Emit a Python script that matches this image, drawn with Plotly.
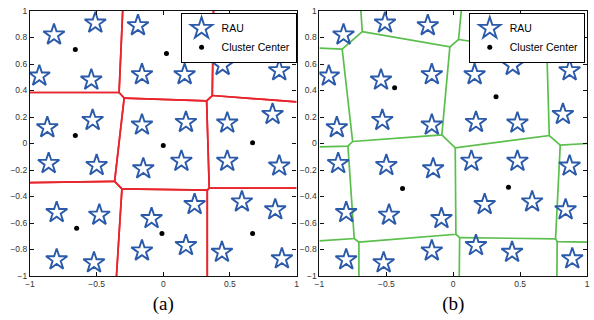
import numpy as np
import plotly.graph_objects as go

# ---------------- data ----------------
# RAU positions (identical in both panels)
rau_x = [-0.82, -0.51, -0.93, -0.54, -0.19, 0.235, -0.16, 0.16, 0.445, 0.87, 0.55, 0.86,
         -0.87, -0.53, -0.16, 0.17, 0.48, 0.82,
         -0.86, -0.50, -0.15, 0.136, 0.48, 0.87,
         -0.80, -0.48, -0.088, 0.235, 0.59, 0.84,
         -0.80, -0.52, -0.16, 0.17, 0.44, 0.89]
rau_y = [0.82, 0.91, 0.51, 0.48, 0.89, 0.89, 0.52, 0.52, 0.59, 0.55, 0.87, 0.87,
         0.12, 0.175, 0.14, 0.16, 0.155, 0.22,
         -0.15, -0.165, -0.19, -0.133, -0.133, -0.17,
         -0.52, -0.54, -0.566, -0.46, -0.44, -0.50,
         -0.877, -0.90, -0.81, -0.77, -0.82, -0.87]

# (a) cluster centers (Voronoi generators)
center_a_x = [-0.66, 0.024, 0.72, -0.66, 0.0, 0.67, -0.65, -0.01, 0.67]
center_a_y = [0.71, 0.68, 0.67, 0.06, -0.015, 0.005, -0.64, -0.68, -0.68]

# (b) cluster centers
center_b_x = [-0.438, 0.32, -0.379, 0.413]
center_b_y = [0.42, 0.353, -0.34, -0.33]

# (b) cell boundaries (polylines, None separates)
b_edge_x = [-0.69, -0.68, -0.83, -1.0, None,
            -0.68, -0.025, 0.04, 0.06, None,
            0.04, 0.70, 0.80, 0.86, None,
            -0.83, -0.752, -0.787, -1.0, None,
            -0.752, -0.085, -0.025, None,
            -0.085, 0.015, 0.718, 0.70, None,
            0.718, 0.80, 1.0, None,
            -0.787, -0.74, -1.0, None,
            -0.74, -0.705, -0.705, None,
            -0.705, 0.02, 0.015, None,
            0.02, 0.048, 0.045, None,
            0.048, 0.765, 0.80, None,
            0.765, 0.777, 1.0, None,
            0.777, 0.775]
b_edge_y = [1.0, 0.844, 0.712, 0.72, None,
            0.844, 0.73, 0.785, 1.0, None,
            0.785, 0.687, 0.78, 0.84, None,
            0.712, 0.015, -0.02, -0.025, None,
            0.015, 0.065, 0.73, None,
            0.065, -0.032, 0.06, 0.687, None,
            0.06, -0.012, 0.0, None,
            -0.02, -0.717, -0.735, None,
            -0.717, -0.745, -1.0, None,
            -0.745, -0.685, -0.032, None,
            -0.685, -0.71, -1.0, None,
            -0.71, -0.72, -0.012, None,
            -0.72, -0.74, -0.745, None,
            -0.74, -1.0]

x_ticks = [-1, -0.5, 0, 0.5, 1]
x_tick_text = ["\u22121", "\u22120.5", "0", "0.5", "1"]
y_ticks = [-1, -0.8, -0.6, -0.4, -0.2, 0, 0.2, 0.4, 0.6, 0.8, 1]
y_tick_text = ["\u22121", "\u22120.8", "\u22120.6", "\u22120.4", "\u22120.2", "0",
               "0.2", "0.4", "0.6", "0.8", "1"]
panel_labels = ["(a)", "(b)"]


# ---------------- Voronoi of the (a) centers, clipped to the box ----------------
def clip_halfplane(poly, a, b, c):
    out = []
    n = len(poly)
    for k in range(n):
        p, q = poly[k], poly[(k + 1) % n]
        fp = a * p[0] + b * p[1] - c
        fq = a * q[0] + b * q[1] - c
        if fp <= 0:
            out.append(p)
        if fp * fq < 0:
            t = fp / (fp - fq)
            out.append((p[0] + t * (q[0] - p[0]), p[1] + t * (q[1] - p[1])))
    return out


def voronoi_edges(cx, cy):
    pts = np.column_stack([cx, cy])
    ex, ey = [], []
    for i, pi in enumerate(pts):
        poly = [(-1, -1), (1, -1), (1, 1), (-1, 1)]
        for j, pj in enumerate(pts):
            if i == j:
                continue
            a, b = 2 * (pj - pi)
            c = pj @ pj - pi @ pi
            poly = clip_halfplane(poly, a, b, c)
        n = len(poly)
        for k in range(n):
            p, q = poly[k], poly[(k + 1) % n]
            on_edge = False
            for d in (0, 1):
                for s in (-1, 1):
                    if abs(p[d] - s) < 1e-9 and abs(q[d] - s) < 1e-9:
                        on_edge = True
            if on_edge:
                continue
            ex += [p[0], q[0], None]
            ey += [p[1], q[1], None]
    return ex, ey


a_edge_x, a_edge_y = voronoi_edges(center_a_x, center_a_y)

# ---------------- figure ----------------
STAR_COLOR = "#2a5aa9"
fig = go.Figure()

panels = [
    dict(xa="x", ya="y", ex=a_edge_x, ey=a_edge_y, cx=center_a_x, cy=center_a_y,
         lc="#e8242c", legend="legend"),
    dict(xa="x2", ya="y2", ex=b_edge_x, ey=b_edge_y, cx=center_b_x, cy=center_b_y,
         lc="#5abf4c", legend="legend2"),
]

for p in panels:
    fig.add_trace(go.Scatter(x=p["ex"], y=p["ey"], mode="lines", xaxis=p["xa"], yaxis=p["ya"],
                             line=dict(color=p["lc"], width=1.7), showlegend=False,
                             hoverinfo="skip"))
    fig.add_trace(go.Scatter(x=rau_x, y=rau_y, mode="markers", name="RAU",
                             xaxis=p["xa"], yaxis=p["ya"], legend=p["legend"],
                             marker=dict(symbol="star-open", size=16,
                                         color=STAR_COLOR, line=dict(width=1.9, color=STAR_COLOR))))
    fig.add_trace(go.Scatter(x=p["cx"], y=p["cy"], mode="markers", name="Cluster Center",
                             xaxis=p["xa"], yaxis=p["ya"], legend=p["legend"],
                             marker=dict(symbol="circle", size=5, color="black")))

L, R, T, B = 30, 4, 11, 44
W, H = 594, 320
pw = W - L - R
dom_a = [0, (298 - L) / pw]
dom_b = [(321 - L) / pw, 1]

axis_common = dict(range=[-1, 1], showgrid=False, zeroline=False, showline=True,
                   linecolor="#111", linewidth=1.2, mirror="allticks", ticks="inside",
                   ticklen=4, tickcolor="#111", tickwidth=1,
                   tickfont=dict(family="Arial, Liberation Sans, sans-serif", size=8.5,
                                 color="#333"), fixedrange=True)

legend_common = dict(bgcolor="white", bordercolor="black", borderwidth=1,
                     font=dict(family="Arial, Liberation Sans, sans-serif", size=10.5,
                               color="black"),
                     xanchor="right", yanchor="top", tracegroupgap=0,
                     itemwidth=30)

title_font = dict(family="Liberation Serif, Times New Roman, serif", size=19, color="black")

fig.update_layout(
    width=W, height=H, margin=dict(l=L, r=R, t=T, b=B),
    paper_bgcolor="white", plot_bgcolor="white",
    xaxis=dict(axis_common, domain=dom_a, anchor="y", tickvals=x_ticks, ticktext=x_tick_text,
               title=dict(text=panel_labels[0], standoff=8, font=title_font)),
    yaxis=dict(axis_common, domain=[0, 1], anchor="x", tickvals=y_ticks, ticktext=y_tick_text),
    xaxis2=dict(axis_common, domain=dom_b, anchor="y2", tickvals=x_ticks, ticktext=x_tick_text,
                title=dict(text=panel_labels[1], standoff=8, font=title_font)),
    yaxis2=dict(axis_common, domain=[0, 1], anchor="x2", tickvals=y_ticks, ticktext=y_tick_text),
    legend=dict(legend_common, x=dom_a[1], y=0.993),
    legend2=dict(legend_common, x=0.996, y=0.993),
    showlegend=True,
)

fig.write_html("out.html", config={"displayModeBar": False},
               post_script="document.body.style.margin='0';")
